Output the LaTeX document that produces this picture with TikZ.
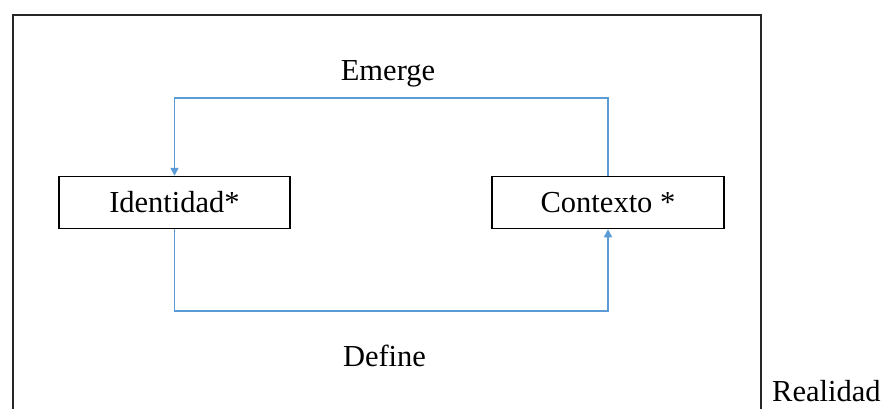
\documentclass[tikz,border=0pt]{standalone}
\usepackage{fontspec}
\setmainfont{Liberation Serif}
\usetikzlibrary{arrows.meta}
\definecolor{linkblue}{RGB}{91,155,213}
\begin{document}
\begin{tikzpicture}[x=1pt,y=-1pt,
  every node/.style={font=\fontsize{30.5}{36}\selectfont},
  boxnode/.style={draw=black,line width=1.5pt,minimum height=52pt,inner sep=0pt},
  lbl/.style={anchor=base,inner sep=0pt},
  conn/.style={draw=linkblue,line width=1.5pt,-{Triangle[width=8pt,length=8pt]}}]
\useasboundingbox (0,0) rectangle (886,409);
\draw[line width=1.8pt,black!85] (13,409) -- (13,15) -- (761,15) -- (761,409);
\node[boxnode,minimum width=231pt] (id) at (174.5,202.5) {Identidad*};
\node[boxnode,minimum width=232pt] (ctx) at (608,202.5) {Contexto *};
\coordinate (tr) at (608,98);
\coordinate (tl) at (174.5,98);
\coordinate (bl) at (174.5,311);
\coordinate (br) at (608,311);
\draw[conn] (ctx.north) -- (tr) -- (tl) -- (id.north);
\draw[conn] (id.south) -- (bl) -- (br) -- (ctx.south);
\node[lbl] (em) at (388,81) {Emerge};
\node[lbl] (df) at (384.5,366) {Define};
\node[lbl,anchor=base west] (re) at (772,401) {Realidad};
\end{tikzpicture}
\end{document}
